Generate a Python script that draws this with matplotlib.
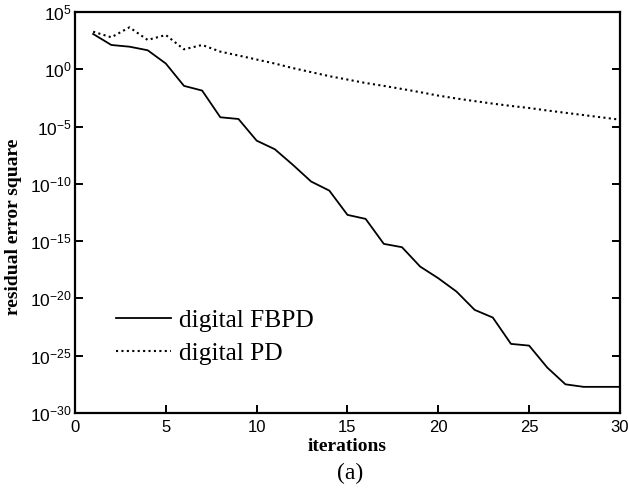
import numpy as np
import matplotlib
matplotlib.use('Agg')
from matplotlib import pyplot as plt
from matplotlib.ticker import LogFormatterSciNotation, NullLocator

# iteration numbers and log10 of the residual error square for each method
iterations = list(range(1, 31))
fbpd_log = [3.08, 2.12, 1.97, 1.66, 0.5, -1.45, -1.86, -4.19, -4.34, -6.23,
            -6.98, -8.35, -9.8, -10.59, -12.71, -13.06, -15.24, -15.53, -17.22, -18.24,
            -19.4, -21.0, -21.67, -23.97, -24.12, -26.04, -27.5, -27.72, -27.72, -27.72]
pd_log = [3.28, 2.79, 3.66, 2.56, 2.99, 1.74, 2.12, 1.54, 1.2, 0.85,
          0.5, 0.1, -0.25, -0.6, -0.9, -1.2, -1.45, -1.72, -2.0, -2.3,
          -2.55, -2.78, -3.0, -3.2, -3.38, -3.6, -3.8, -4.0, -4.2, -4.4]

fbpd = 10.0 ** np.array(fbpd_log)
pd_err = 10.0 ** np.array(pd_log)

plt.rcParams['font.family'] = 'Liberation Sans'
plt.rcParams['mathtext.fontset'] = 'custom'
plt.rcParams['mathtext.rm'] = 'Liberation Sans'
plt.rcParams['mathtext.it'] = 'Liberation Sans'

fig = plt.figure(figsize=(6.28, 4.95), dpi=100)
ax = fig.add_axes([0.1194, 0.1657, 0.8678, 0.8101])

ax.plot(iterations, fbpd, color='black', lw=1.3, label='digital FBPD')
ax.plot(iterations, pd_err, color='black', lw=1.5, linestyle=(0, (1, 1.6)),
        label='digital PD')

ax.set_yscale('log')
ax.set_xlim(0, 30)
ax.set_ylim(1e-30, 1e5)
ax.set_xticks([0, 5, 10, 15, 20, 25, 30])
ax.set_yticks([10.0 ** k for k in range(-30, 6, 5)])
ax.yaxis.set_major_formatter(LogFormatterSciNotation())
ax.yaxis.set_minor_locator(NullLocator())

for s in ax.spines.values():
    s.set_linewidth(1.6)
ax.tick_params(direction='in', length=6, width=1.4)
ax.tick_params(axis='y', right=True, pad=2.5, labelsize=12.5)
ax.tick_params(axis='x', pad=5, labelsize=12)

ax.set_xlabel('iterations', family='Liberation Serif', fontweight='bold',
              fontsize=14, labelpad=2)
ax.set_ylabel('residual error square', family='Liberation Serif',
              fontweight='bold', fontsize=14)
ax.yaxis.set_label_coords(-0.097, 0.464)

ax.legend(loc='upper left', bbox_to_anchor=(0.075, 0.258), frameon=False,
          prop={'family': 'Liberation Serif', 'size': 18.3},
          handlelength=2.15, handletextpad=0.35, labelspacing=0.38,
          borderpad=0, borderaxespad=0)

fig.text(0.557, 0.044, '(a)', family='Liberation Serif', fontsize=17,
         ha='center', va='center')

fig.savefig('out.png', dpi=100)
